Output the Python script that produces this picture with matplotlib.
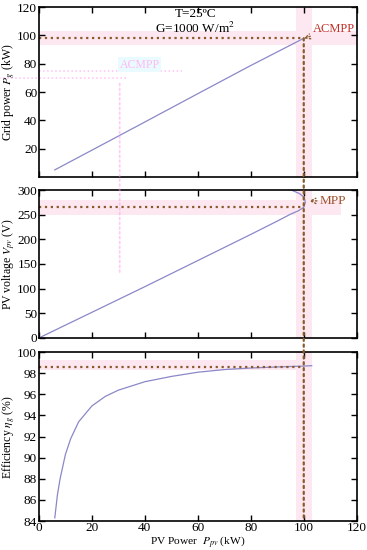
import matplotlib
matplotlib.use("Agg")
import matplotlib.pyplot as plt
from matplotlib.patches import ConnectionPatch

plt.rcParams['font.family'] = ['Liberation Serif', 'DejaVu Serif']
plt.rcParams['mathtext.fontset'] = 'stix'

# ---- data ----
grid_p = [6, 20, 40, 60, 80, 100]
grid_kw = [5.1, 19.0, 38.9, 58.9, 78.8, 98.0]

pv_p = [0, 20, 40, 60, 80, 90, 95, 98, 100, 100.6, 100.2, 98.3, 95.3]
pv_v = [0, 52, 104, 157, 210, 237, 251, 258, 265, 275, 285, 293, 300]

eff_p = [6, 7, 8, 10, 12, 15, 20, 25, 30, 40, 50, 60, 70, 80, 90, 100, 103]
eff = [84.3, 86.5, 88.0, 90.3, 91.8, 93.4, 94.9, 95.8, 96.4, 97.2, 97.7,
       98.1, 98.35, 98.5, 98.6, 98.68, 98.72]

mpp_p = 100
acmpp_kw = 98
mpp_v = 265
mpp_eff = 98.6
ghost_p = 30.5

line_c = '#8a88c8'
dot_c = '#8b5a2b'
pink = '#fde8f1'

fig = plt.figure(figsize=(3.67, 5.5), dpi=100)
ax1 = fig.add_axes([0.106, 0.678, 0.866, 0.309])
ax2 = fig.add_axes([0.106, 0.3855, 0.866, 0.269])
ax3 = fig.add_axes([0.106, 0.0527, 0.866, 0.307])

for ax in (ax1, ax2, ax3):
    ax.set_xlim(0, 120)
    ax.set_xticks(range(0, 121, 20))
    ax.tick_params(direction='in', top=True, right=True, labelsize=9.5,
                   length=4, width=1, pad=1.2)
    for s in ax.spines.values():
        s.set_linewidth(1.2)
    ax.axvspan(97, 103, color=pink, zorder=0, lw=0)

ax1.tick_params(labelbottom=False)
ax2.tick_params(labelbottom=False)
ax3.tick_params(axis='x', pad=0.8)

# panel 1
ax1.set_ylim(0, 120)
ax1.set_yticks(range(20, 121, 20))
ax1.axhspan(93, 103, color=pink, zorder=0, lw=0)
ax1.plot(grid_p, grid_kw, color=line_c, lw=0.9)
ax1.plot([0, mpp_p], [acmpp_kw, acmpp_kw], ls=':', color=dot_c, lw=1.6)
ax1.text(59, 109.5, 'T=25ºC\nG=1000 W/m$^2$', ha='center', va='center',
         fontsize=9.5, linespacing=1.05)
ax1.annotate('ACMPP', xy=(mpp_p, acmpp_kw), xytext=(103.5, 104.5),
             fontsize=9, color='#c0302a', va='center',
             arrowprops=dict(arrowstyle='->', ls=':', color=dot_c, lw=1.0,
                             shrinkA=0, shrinkB=0))
ax1.set_ylabel('Grid power $P_g$ (kW)', fontsize=8.5, labelpad=0)

# ghost artifacts
ax1.plot([0, 54], [75, 75], ls=':', color='#ff99f0', lw=1.1, alpha=0.6)
ax1.plot([-20, 33], [70, 70], ls=':', color='#ff99f0', lw=1.1, alpha=0.6,
         clip_on=False)
ax1.text(38, 79.5, 'ACMPP', fontsize=8.5, color='#ffb8f4', ha='center',
         va='center',
         bbox=dict(boxstyle='square,pad=0.1', fc='#eafbff', ec='none'))

# panel 2
ax2.set_ylim(0, 300)
ax2.set_yticks(range(0, 301, 50))
ax2.axhspan(250, 280, xmin=0, xmax=0.95, color=pink, zorder=0, lw=0)
ax2.plot(pv_p, pv_v, color=line_c, lw=0.9)
ax2.plot([0, mpp_p], [mpp_v, mpp_v], ls=':', color=dot_c, lw=1.6)
ax2.annotate('MPP', xy=(102, 278), xytext=(106, 278),
             fontsize=9.5, color='#a0522d', va='center',
             arrowprops=dict(arrowstyle='->', ls=':', color=dot_c, lw=1.0,
                             shrinkA=0, shrinkB=0))
ax2.set_ylabel('PV voltage $V_{pv}$ (V)', fontsize=8.5, labelpad=0)

# panel 3
ax3.set_ylim(84, 100)
ax3.set_yticks(range(84, 101, 2))
ax3.axhspan(98.3, 99.3, xmin=0, xmax=0.86, color=pink, zorder=0, lw=0)
ax3.plot(eff_p, eff, color=line_c, lw=0.9)
ax3.plot([0, mpp_p], [mpp_eff, mpp_eff], ls=':', color=dot_c, lw=1.6)
ax3.set_ylabel('Efficiency $\\eta_g$ (%)', fontsize=8.5, labelpad=0)
ax3.set_xlabel('PV Power  $P_{pv}$ (kW)', fontsize=8.2, labelpad=0)

# vertical dotted line through all panels
con = ConnectionPatch(xyA=(mpp_p, acmpp_kw), coordsA=ax1.transData,
                      xyB=(mpp_p, 84), coordsB=ax3.transData,
                      ls=':', color=dot_c, lw=1.6, zorder=5)
fig.add_artist(con)

ghost = ConnectionPatch(xyA=(ghost_p, 66), coordsA=ax1.transData,
                        xyB=(ghost_p, 133), coordsB=ax2.transData,
                        ls=':', color='#ff99f0', lw=1.3, alpha=0.5, zorder=1)
fig.add_artist(ghost)

fig.savefig('out.png', dpi=100)
